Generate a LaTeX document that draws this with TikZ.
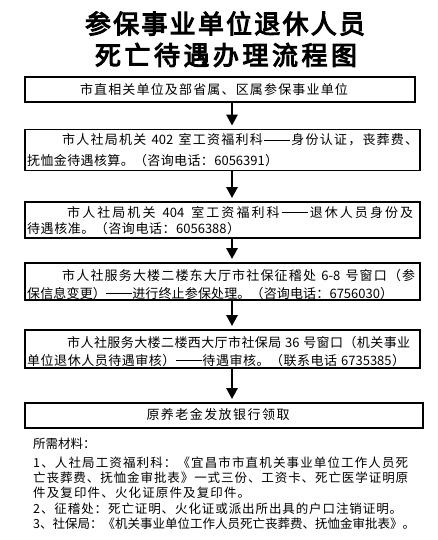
\documentclass[tikz,border=0pt]{standalone}
\usepackage{fontspec}
\usetikzlibrary{arrows.meta}
\newfontfamily\cjk{Noto Sans CJK SC}
\newfontfamily\cjkbold[FakeBold=4]{Noto Sans CJK SC}
\def\spreadfirst#1{#1\spreadrest}
\def\spreadrest#1{\ifx#1\relax\else\hskip 0pt plus 1fil #1\expandafter\spreadrest\fi}
\newcommand{\jline}[2]{\makebox[#1][s]{\spreadfirst#2\relax}}
\def\DD{\mbox{\rule[0.36em]{2em}{0.6pt}}}
\def\Na{\mbox{402}}
\def\Nb{\mbox{404}}
\def\Nc{\mbox{6-8}}
\def\Nd{\mbox{36}}
\def\Pa{\mbox{6056391}}
\def\Pb{\mbox{6056388}}
\def\Pc{\mbox{6756030}}
\def\Pd{\mbox{6735385}}
\begin{document}
\begin{tikzpicture}[x=1pt,y=-1pt,
  box/.style={draw=black,line width=1.8pt,inner sep=0pt},
  txt/.style={inner sep=0pt,anchor=base west,font=\cjk\fontsize{13}{13}\selectfont},
  mtxt/.style={inner sep=0pt,anchor=base west,font=\cjk\fontsize{12.5}{12.5}\selectfont},
  title/.style={inner sep=0pt,font=\cjkbold\fontsize{26}{26}\selectfont},
  flow/.style={line width=2.6pt,-{Triangle[width=11pt,length=11pt]},shorten >=3pt}]
\useasboundingbox (0,0) rectangle (438,540);
\fill[white] (0,0) rectangle (438,540);
% title
\node[title] (t1) at (225,23.5) {\jline{280pt}{参保事业单位退休人员}};
\node[title] (t2) at (226,55) {\jline{262pt}{死亡待遇办理流程图}};
% boxes
\node[box,minimum width=390pt,minimum height=25pt] (b1) at (220,89.5) {};
\node[box,minimum width=395pt,minimum height=41pt] (b2) at (222.5,150) {};
\node[box,minimum width=395pt,minimum height=36pt] (b3) at (222.5,220) {};
\node[box,minimum width=395pt,minimum height=37pt] (b4) at (222.5,281.5) {};
\node[box,minimum width=395pt,minimum height=38pt] (b5) at (222.5,349) {};
\node[box,minimum width=398pt,minimum height=25pt] (b6) at (224,415.5) {};
% box texts
\node[txt,anchor=base] (l1) at (214,95) {\jline{268pt}{市直相关单位及部省属、区属参保事业单位}};
\node[txt] (l2a) at (62,145) {\jline{356pt}{市人社局机关~\Na~室工资福利科\DD 身份认证，丧葬费、}};
\node[txt] (l2b) at (27,165) {\jline{251pt}{抚恤金待遇核算。（咨询电话：\Pa）}};
\node[txt] (l3a) at (67,217) {\jline{346pt}{市人社局机关~\Nb~室工资福利科\DD 退休人员身份及}};
\node[txt] (l3b) at (27,233) {\jline{213pt}{待遇核准。（咨询电话：\Pb）}};
\node[txt] (l4a) at (62,280) {\jline{353pt}{市人社服务大楼二楼东大厅市社保征稽处~\Nc~号窗口（参}};
\node[txt] (l4b) at (27,298) {\jline{366pt}{保信息变更）\DD 进行终止参保处理。（咨询电话：\Pc）}};
\node[txt] (l5a) at (67,347) {\jline{343pt}{市人社服务大楼二楼西大厅市社保局~\Nd~号窗口（机关事业}};
\node[txt] (l5b) at (27,365) {\jline{378pt}{单位退休人员待遇审核）\DD 待遇审核。（联系电话~\Pd）}};
\node[txt,anchor=base] (l6) at (218,419) {\jline{143pt}{原养老金发放银行领取}};
% arrows
\draw[flow] ([xshift=12pt]b1.south) -- ([xshift=9.5pt]b2.north);
\draw[flow] ([xshift=9.5pt]b2.south) -- ([xshift=9.5pt]b3.north);
\draw[flow] ([xshift=9.5pt]b3.south) -- ([xshift=9.5pt]b4.north);
\draw[flow] ([xshift=9.5pt]b4.south) -- ([xshift=9.5pt]b5.north);
\draw[flow] ([xshift=9.5pt]b5.south) -- ([xshift=8pt]b6.north);
% materials
\node[mtxt] (m0) at (33,448) {\jline{57pt}{所需材料：}};
\node[mtxt] (m1) at (33,467) {\jline{375pt}{1、人社局工资福利科：《宜昌市市直机关事业单位工作人员死}};
\node[mtxt] (m2) at (33,482) {\jline{375pt}{亡丧葬费、抚恤金审批表》一式三份、工资卡、死亡医学证明原}};
\node[mtxt] (m3) at (33,497) {\jline{217pt}{件及复印件、火化证原件及复印件。}};
\node[mtxt] (m4) at (33,513) {\jline{369pt}{2、征稽处：死亡证明、火化证或派出所出具的户口注销证明。}};
\node[mtxt] (m5) at (33,528) {\jline{375pt}{3、社保局：《机关事业单位工作人员死亡丧葬费、抚恤金审批表》。}};
\end{tikzpicture}
\end{document}
